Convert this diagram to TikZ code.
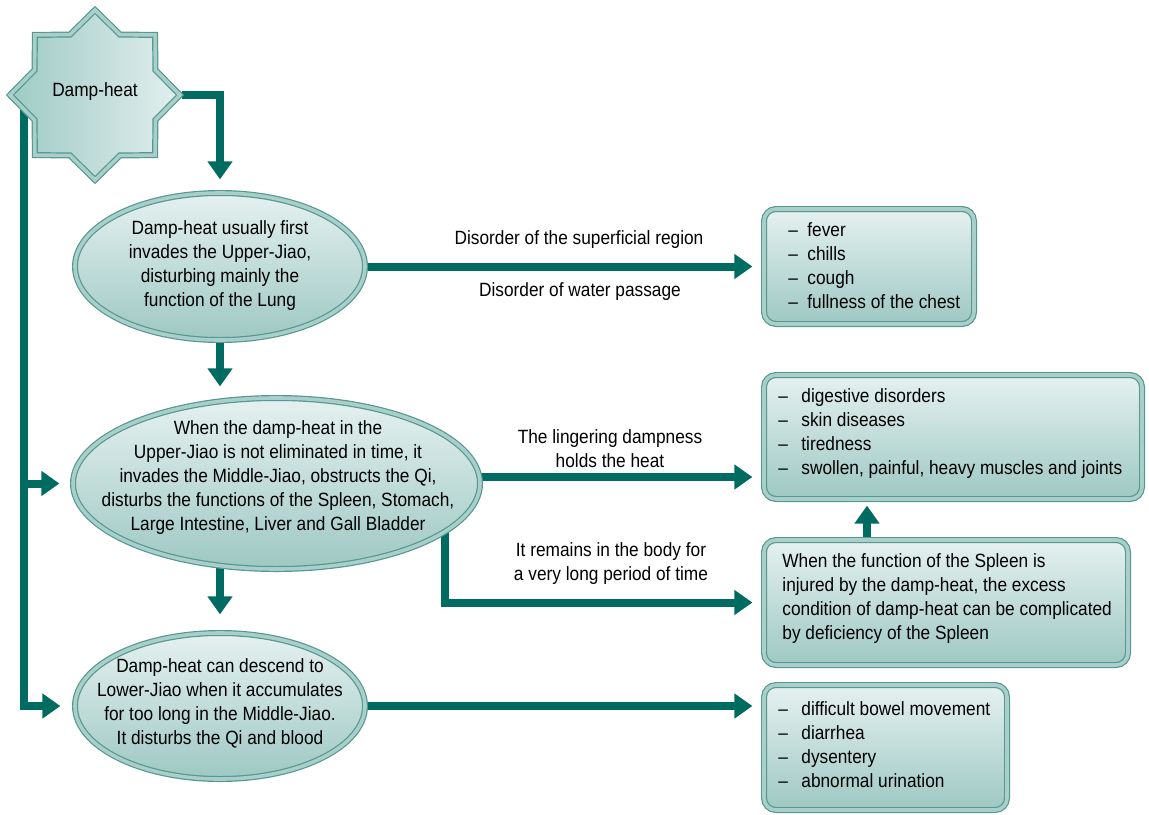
\documentclass[tikz,border=0pt]{standalone}
\usepackage{fontspec}
\setmainfont{Liberation Sans}[FakeStretch=0.9]
\usetikzlibrary{arrows.meta,backgrounds,calc,shapes.geometric}

\definecolor{conncol}{RGB}{0,107,96}
\definecolor{edgecol}{RGB}{84,152,144}
\definecolor{bandcol}{RGB}{170,207,202}
\definecolor{filltop}{RGB}{229,241,240}
\definecolor{fillbot}{RGB}{158,200,195}
\definecolor{starleft}{RGB}{158,202,197}
\definecolor{starright}{RGB}{226,239,238}

\begin{document}
\begin{tikzpicture}[x=0.5pt,y=-0.5pt,
  font=\fontsize{9.6}{12}\selectfont,
  bevel/.style={draw=edgecol, line width=0.6pt, double=bandcol, double distance=1.8pt},
  oval/.style={bevel, ellipse, top color=filltop, bottom color=fillbot, inner sep=0pt},
  card/.style={bevel, rectangle, rounded corners=6pt, top color=filltop, bottom color=fillbot, inner sep=0pt},
  txt/.style={align=center, inner sep=0pt},
  list/.style={align=left, anchor=west, inner sep=0pt},
  lbl/.style={align=center, inner sep=0pt},
  conn/.style={draw=conncol, line width=4pt, -{Triangle[width=12pt,length=9pt]}},
]
\useasboundingbox (0,0) rectangle (1149,814);

% eight-pointed star
\draw[bevel, left color=starleft, right color=starright]
  (95,95) ++(0:85)
  \foreach \k/\r in {1/65.4,2/85,3/65.4,4/85,5/65.4,6/85,7/65.4,8/85,9/65.4,10/85,11/65.4,12/85,13/65.4,14/85,15/65.4}
  { -- ($(95,95)+(\k*22.5:\r)$) } -- cycle;
\node[minimum width=87pt, minimum height=87pt, inner sep=0pt] (dh) at (95,95) {};
\node[txt] (dhl) at (95,92) {Damp-heat};

% ovals
\node[oval, minimum width=145pt, minimum height=73.5pt] (e1) at (220,266.5) {};
\node[txt] (t1) at (220,266) {Damp-heat usually first\\invades the Upper-Jiao,\\disturbing mainly the\\function of the Lung};

\node[oval, minimum width=203.5pt, minimum height=85.5pt] (e2) at (276.5,483.5) {};
\node[txt] (t2) at (278,478) {When the damp-heat in the\\Upper-Jiao is not eliminated in time, it\\invades the Middle-Jiao, obstructs the Qi,\\disturbs the functions of the Spleen, Stomach,\\Large Intestine, Liver and Gall Bladder};

\node[oval, minimum width=145pt, minimum height=73pt] (e3) at (220,706) {};
\node[txt] (t3) at (220,703.5) {Damp-heat can descend to\\Lower-Jiao when it accumulates\\for too long in the Middle-Jiao.\\It disturbs the Qi and blood};

% cards
\node[card, minimum width=105pt, minimum height=57.5pt] (b1) at (869,266.5) {};
\node[list] (s1) at (788,266) {\makebox[9.5pt][l]{–}fever\\\makebox[9.5pt][l]{–}chills\\\makebox[9.5pt][l]{–}cough\\\makebox[9.5pt][l]{–}fullness of the chest};

\node[card, minimum width=189pt, minimum height=62pt] (b2) at (953,437) {};
\node[list] (s2) at (778,433.5) {\makebox[11.5pt][l]{–}digestive disorders\\\makebox[11.5pt][l]{–}skin diseases\\\makebox[11.5pt][l]{–}tiredness\\\makebox[11.5pt][l]{–}swollen, painful, heavy muscles and joints};

\node[card, minimum width=182pt, minimum height=62.5pt] (b3) at (946,602.5) {};
\node[list] (s3) at (782,599) {When the function of the Spleen is\\injured by the damp-heat, the excess\\condition of damp-heat can be complicated\\by deficiency of the Spleen};

\node[card, minimum width=121.5pt, minimum height=62.5pt] (b4) at (885.5,747.5) {};
\node[list] (s4) at (778,744.5) {\makebox[11.5pt][l]{–}difficult bowel movement\\\makebox[11.5pt][l]{–}diarrhea\\\makebox[11.5pt][l]{–}dysentery\\\makebox[11.5pt][l]{–}abnormal urination};

% connector labels
\node[lbl] (l1) at (579,240) {Disorder of the superficial region};
\node[lbl] (l2) at (580,292) {Disorder of water passage};
\node[lbl] (l3) at (610,449) {The lingering dampness\\holds the heat};
\node[lbl] (l4) at (611,564) {It remains in the body for\\a very long period of time};

% connectors
\coordinate (trunk) at ([xshift=8pt]dh.west);
\coordinate (e2m) at ([yshift=3.25pt]e2.center);
\coordinate (e2r) at ([xshift=84.25pt]e2.center);
\coordinate (b3u) at ([xshift=-39.5pt]b3.north);
\begin{scope}[on background layer]
  \draw[conn, shorten >=6.5pt] (dh.east) -| (e1.north);
  \draw[conn, shorten >=7pt] (trunk) |- (e3.west);
  \draw[conn, shorten >=6.5pt] (trunk |- e2.west) -- (e2.west);
  \draw[conn, shorten >=5.5pt] (e1.center) -- (e1.south |- e2.north);
  \draw[conn, shorten >=9pt] (e3.north |- e2.center) -- (e3.north);
  \draw[conn, shorten >=5.5pt] (e1.center) -- (b1.west);
  \draw[conn, shorten >=5.5pt] (e2m) -- (e2m -| b2.west);
  \draw[conn, shorten >=5.5pt] (e2r) |- (b3.west);
  \draw[conn, shorten >=3pt] (b3u) -- (b3u |- b2.south);
  \draw[conn, shorten >=5.5pt] (e3.center) -- (e3.center -| b4.west);
\end{scope}
\end{tikzpicture}
\end{document}
